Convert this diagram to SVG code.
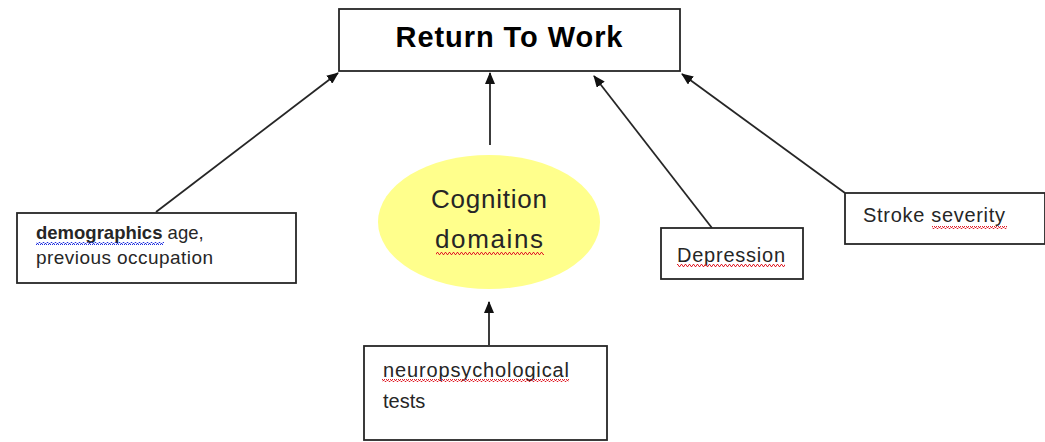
<svg xmlns="http://www.w3.org/2000/svg" width="1045" height="442" viewBox="0 0 1045 442">
<style>
.box{fill:#fff;stroke:#262626;stroke-width:1.8}
.lbl{font-family:"Liberation Sans",Arial,sans-serif;fill:#262626}
.con{stroke:#262626;stroke-width:1.8;fill:none;marker-end:url(#ah)}
</style>
<defs>
<marker id="ah" markerUnits="userSpaceOnUse" markerWidth="12" markerHeight="10" refX="11" refY="5" orient="auto">
<path d="M0,0 L12,5 L0,10 Z" fill="#111"/>
</marker>
<pattern id="sqr" width="4" height="3" patternUnits="userSpaceOnUse">
<path d="M0,2.5 L1,0.5 L2,0.5 L3,2.5 L4,2.5" stroke="#e0202a" stroke-width="1" fill="none"/>
</pattern>
<pattern id="sqb" width="4" height="3" patternUnits="userSpaceOnUse">
<path d="M0,2.5 L1,0.5 L2,0.5 L3,2.5 L4,2.5" stroke="#2030e0" stroke-width="1" fill="none"/>
</pattern>
</defs>
<rect width="1045" height="442" fill="#fff"/>
<g id="connectors">
<line class="con" x1="156" y1="212" x2="338" y2="73"/>
<line class="con" x1="490" y1="145" x2="490" y2="73"/>
<line class="con" x1="712" y1="228" x2="594" y2="76"/>
<line class="con" x1="845" y1="193" x2="682" y2="74"/>
<line class="con" x1="489" y1="345" x2="489" y2="302"/>
</g>
<g id="return-to-work">
<rect class="box" x="339" y="9" width="341" height="62" stroke-width="2"/>
<text class="lbl" x="509" y="47" font-size="29" font-weight="bold" text-anchor="middle" style="fill:#000" textLength="227">Return To Work</text>
</g>
<g id="demographics">
<rect class="box" x="17" y="213" width="279" height="70"/>
<text class="lbl" x="36" y="239" font-size="18.5"><tspan font-weight="bold">demographics</tspan> <tspan>age,</tspan></text>
<text class="lbl" x="36" y="264" font-size="19" textLength="177">previous occupation</text>
<rect x="36" y="242" width="128" height="3" fill="url(#sqb)"/>
</g>
<g id="cognition">
<ellipse cx="489" cy="222" rx="111" ry="67" fill="#ffff8c"/>
<text class="lbl" x="489" y="208" font-size="26" text-anchor="middle" textLength="116">Cognition</text>
<text class="lbl" x="489" y="248" font-size="26" text-anchor="middle" textLength="108">domains</text>
<rect x="436" y="252" width="108" height="3" fill="url(#sqr)"/>
</g>
<g id="depression">
<rect class="box" x="661" y="228" width="142" height="51"/>
<text class="lbl" x="677" y="262" font-size="20" textLength="108">Depression</text>
<rect x="677" y="264" width="108" height="3" fill="url(#sqr)"/>
</g>
<g id="stroke-severity">
<rect class="box" x="845" y="193" width="200" height="51"/>
<text class="lbl" x="863" y="222" font-size="20" textLength="142">Stroke severity</text>
<rect x="932" y="226" width="75" height="3" fill="url(#sqr)"/>
</g>
<g id="neuropsych">
<rect class="box" x="364" y="346" width="243" height="94"/>
<text class="lbl" x="383" y="377" font-size="20" textLength="186">neuropsychological</text>
<text class="lbl" x="383" y="408" font-size="20">tests</text>
<rect x="382" y="379" width="187" height="3" fill="url(#sqr)"/>
</g>
</svg>
